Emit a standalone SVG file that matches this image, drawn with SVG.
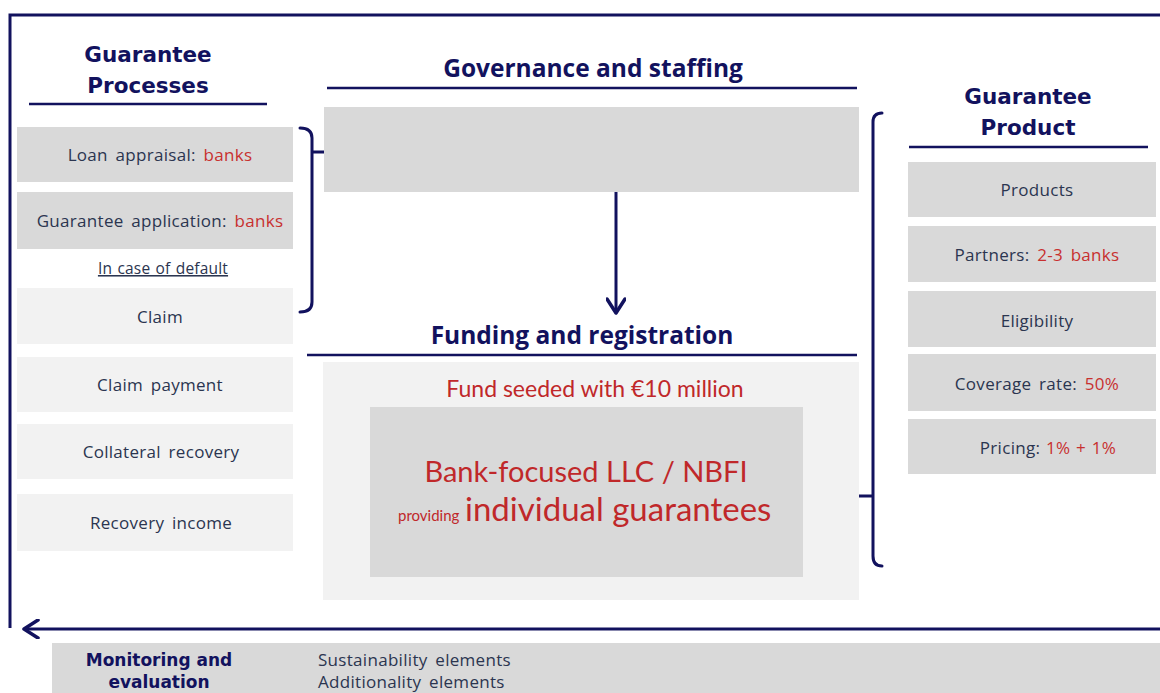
<svg xmlns="http://www.w3.org/2000/svg" width="1160" height="693" viewBox="0 0 1160 693">
<style>
.frame{stroke:#12125e;stroke-width:3;fill:none}
.ul{stroke:#12125e;stroke-width:2.5;fill:none}
.br{stroke:#12125e;stroke-width:3;fill:none;stroke-linecap:round}
.dark{fill:#d9d9d9}
.light{fill:#f2f2f2}
.h{font-family:"DejaVu Sans",sans-serif;font-weight:bold;font-size:21.5px;fill:#12125e;text-anchor:middle}
.h2{font-family:"Open Sans",sans-serif;font-weight:bold;font-size:24.5px;fill:#12125e;text-anchor:middle}
.t{font-family:"Open Sans",sans-serif;font-size:17px;letter-spacing:0.3px;word-spacing:3px;fill:#2b3550;text-anchor:middle}
.r{fill:#c8302f}
.red{font-family:Lato,sans-serif;fill:#c0282a}
.mb{font-family:"DejaVu Sans",sans-serif;font-weight:bold;font-size:17px;fill:#12125e;text-anchor:middle}
.mt{font-family:"Open Sans",sans-serif;font-size:17px;letter-spacing:0.3px;word-spacing:3px;fill:#2b3550}
</style>
<defs>
<marker id="chev" viewBox="0 0 20 20" refX="18" refY="10" markerWidth="20" markerHeight="20" markerUnits="userSpaceOnUse" orient="auto">
<path d="M4,1 L18,10 L4,19" fill="none" stroke="#12125e" stroke-width="3.5" stroke-linecap="round" stroke-linejoin="round"/>
</marker>
</defs>
<rect width="1160" height="693" fill="#ffffff"/>

<g id="connectors">
<path class="frame" d="M1160,15 H10 V628"/>
<line class="frame" x1="1160" y1="629" x2="24" y2="629" marker-end="url(#chev)"/>
<line class="frame" x1="616" y1="192" x2="616" y2="313" marker-end="url(#chev)"/>
<path class="br" d="M300,128 Q312,128 312,138 V302 Q312,312 300,312 M312,152 H326"/>
<path class="br" d="M882,113 Q873,113 873,122 V556 Q873,566 882,566 M873,496 H859"/>
</g>

<g id="guarantee-processes">
<text class="h" x="148" y="62">Guarantee</text>
<text class="h" x="148" y="93">Processes</text>
<line class="ul" x1="29" y1="104" x2="267" y2="104"/>
</g>
<g id="loan-appraisal">
<rect class="dark" x="17" y="127" width="276" height="55"/>
<text class="t" x="160" y="161">Loan appraisal: <tspan class="r">banks</tspan></text>
</g>
<g id="guarantee-application">
<rect class="dark" x="17" y="192" width="276" height="57"/>
<text class="t" x="160" y="227">Guarantee application: <tspan class="r">banks</tspan></text>
</g>
<g id="in-case-of-default">
<text class="t" x="163" y="274" text-decoration="underline" style="font-size:15.5px;letter-spacing:0.2px;word-spacing:1px">In case of default</text>
</g>
<g id="claim">
<rect class="light" x="17" y="288" width="276" height="56"/>
<text class="t" x="160" y="323">Claim</text>
</g>
<g id="claim-payment">
<rect class="light" x="17" y="357" width="276" height="55"/>
<text class="t" x="160" y="391">Claim payment</text>
</g>
<g id="collateral-recovery">
<rect class="light" x="17" y="424" width="276" height="55"/>
<text class="t" x="161" y="458">Collateral recovery</text>
</g>
<g id="recovery-income">
<rect class="light" x="17" y="494" width="276" height="57"/>
<text class="t" x="161" y="529">Recovery income</text>
</g>

<g id="governance">
<text class="h2" x="593" y="77">Governance and staffing</text>
<line class="ul" x1="327" y1="88" x2="857" y2="88"/>
<rect class="dark" x="324" y="107" width="535" height="85"/>
</g>

<g id="funding">
<text class="h2" x="582" y="344">Funding and registration</text>
<line class="ul" x1="307" y1="355" x2="857" y2="355"/>
<rect class="light" x="323" y="362" width="536" height="238"/>
<text class="red" x="595" y="397" text-anchor="middle" style="font-size:23px">Fund seeded with €10 million</text>
</g>
<g id="llc">
<rect class="dark" x="370" y="407" width="433" height="170"/>
<text class="red" x="586" y="482" text-anchor="middle" style="font-size:29px">Bank-focused LLC / NBFI</text>
<text class="red" x="398" y="521" style="font-size:15px">providing</text>
<text class="red" x="465" y="521" style="font-size:33px">individual guarantees</text>
</g>

<g id="guarantee-product">
<text class="h" x="1028" y="104">Guarantee</text>
<text class="h" x="1028" y="135">Product</text>
<line class="ul" x1="909" y1="147" x2="1148" y2="147"/>
</g>
<g id="products">
<rect class="dark" x="908" y="162" width="248" height="55"/>
<text class="t" x="1037" y="196">Products</text>
</g>
<g id="partners">
<rect class="dark" x="908" y="226" width="248" height="56"/>
<text class="t" x="1037" y="261">Partners: <tspan class="r">2-3 banks</tspan></text>
</g>
<g id="eligibility">
<rect class="dark" x="908" y="291" width="248" height="56"/>
<text class="t" x="1037" y="327">Eligibility</text>
</g>
<g id="coverage">
<rect class="dark" x="908" y="354" width="248" height="57"/>
<text class="t" x="1037" y="390">Coverage rate: <tspan class="r">50%</tspan></text>
</g>
<g id="pricing">
<rect class="dark" x="908" y="419" width="248" height="55"/>
<text class="t" x="1048" y="454" style="word-spacing:1px">Pricing: <tspan class="r">1% + 1%</tspan></text>
</g>

<g id="monitoring">
<rect class="dark" x="52" y="643" width="1108" height="50"/>
<text class="mb" x="159" y="666">Monitoring and</text>
<text class="mb" x="159" y="688">evaluation</text>
<text class="mt" x="318" y="666">Sustainability elements</text>
<text class="mt" x="318" y="688">Additionality elements</text>
</g>
</svg>
